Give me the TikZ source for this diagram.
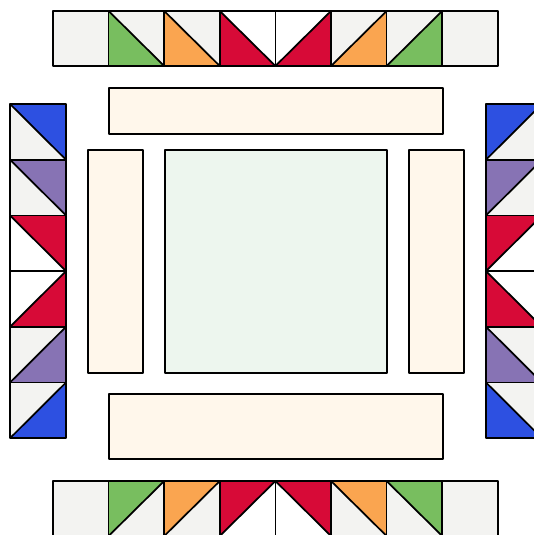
\documentclass[tikz,border=0pt]{standalone}
\usepackage{xcolor}
\usetikzlibrary{positioning}
\definecolor{qgreen}{RGB}{120,190,95}
\definecolor{qorange}{RGB}{250,165,80}
\definecolor{qred}{RGB}{215,10,55}
\definecolor{qblue}{RGB}{45,80,225}
\definecolor{qpurple}{RGB}{135,115,180}
\definecolor{qgray}{RGB}{243,243,241}
\definecolor{qbeige}{RGB}{255,247,235}
\definecolor{qmint}{RGB}{237,246,238}

% half-square triangle: x, y, w, h, background, triangle, corner x (0/1), corner y (0/1)
\newcommand{\hst}[8]{%
  \fill[#5] (#1,#2) rectangle ++(#3,#4);
  \fill[#6] ({#1+#7*#3},{#2+#8*#4}) -- ({#1+(1-#7)*#3},{#2+#8*#4}) -- ({#1+#7*#3},{#2+(1-#8)*#4}) -- cycle;
  \draw ({#1+(1-#7)*#3},{#2+#8*#4}) -- ({#1+#7*#3},{#2+(1-#8)*#4});
  \draw (#1,#2) rectangle ++(#3,#4);}

\begin{document}
\begin{tikzpicture}[x=0.75pt, y=-0.75pt, line width=1.3pt, line join=round,
		plain/.style={draw, fill=qgray},
		panel/.style={draw, fill=qbeige},
		centre/.style={draw, fill=qmint}]
				\useasboundingbox (0,0) rectangle (533,535);
				% top border
				\draw[plain] (53,11) rectangle ++(55.6,55);
				\hst{108.6}{11}{55.6}{55}{qgray}{qgreen}{0}{1}
				\hst{164.2}{11}{55.6}{55}{qgray}{qorange}{0}{1}
				\hst{219.8}{11}{55.6}{55}{white}{qred}{0}{1}
				\hst{275.4}{11}{55.6}{55}{white}{qred}{1}{1}
				\hst{331.0}{11}{55.6}{55}{qgray}{qorange}{1}{1}
				\hst{386.6}{11}{55.6}{55}{qgray}{qgreen}{1}{1}
				\draw[plain] (442.2,11) rectangle ++(55.6,55);
				% bottom border
				\draw[plain] (53,481) rectangle ++(55.6,55);
				\hst{108.6}{481}{55.6}{55}{qgray}{qgreen}{0}{0}
				\hst{164.2}{481}{55.6}{55}{qgray}{qorange}{0}{0}
				\hst{219.8}{481}{55.6}{55}{white}{qred}{0}{0}
				\hst{275.4}{481}{55.6}{55}{white}{qred}{1}{0}
				\hst{331.0}{481}{55.6}{55}{qgray}{qorange}{1}{0}
				\hst{386.6}{481}{55.6}{55}{qgray}{qgreen}{1}{0}
				\draw[plain] (442.2,481) rectangle ++(55.6,55);
				% left border
				\hst{10}{104}{56}{55.7}{qgray}{qblue}{1}{0}
				\hst{10}{159.7}{56}{55.7}{qgray}{qpurple}{1}{0}
				\hst{10}{215.4}{56}{55.7}{white}{qred}{1}{0}
				\hst{10}{271.1}{56}{55.7}{white}{qred}{1}{1}
				\hst{10}{326.8}{56}{55.7}{qgray}{qpurple}{1}{1}
				\hst{10}{382.5}{56}{55.7}{qgray}{qblue}{1}{1}
				% right border
				\hst{486}{104}{56}{55.7}{qgray}{qblue}{0}{0}
				\hst{486}{159.7}{56}{55.7}{qgray}{qpurple}{0}{0}
				\hst{486}{215.4}{56}{55.7}{white}{qred}{0}{0}
				\hst{486}{271.1}{56}{55.7}{white}{qred}{0}{1}
				\hst{486}{326.8}{56}{55.7}{qgray}{qpurple}{0}{1}
				\hst{486}{382.5}{56}{55.7}{qgray}{qblue}{0}{1}
				% centre panels
				\draw[panel] (109,88) rectangle (443,134);
				\draw[panel] (88,150) rectangle (143,373);
				\draw[centre] (165,150) rectangle (387,373);
				\draw[panel] (409,150) rectangle (464,373);
				\draw[panel] (109,394) rectangle (443,459);
			\end{tikzpicture}
\end{document}
